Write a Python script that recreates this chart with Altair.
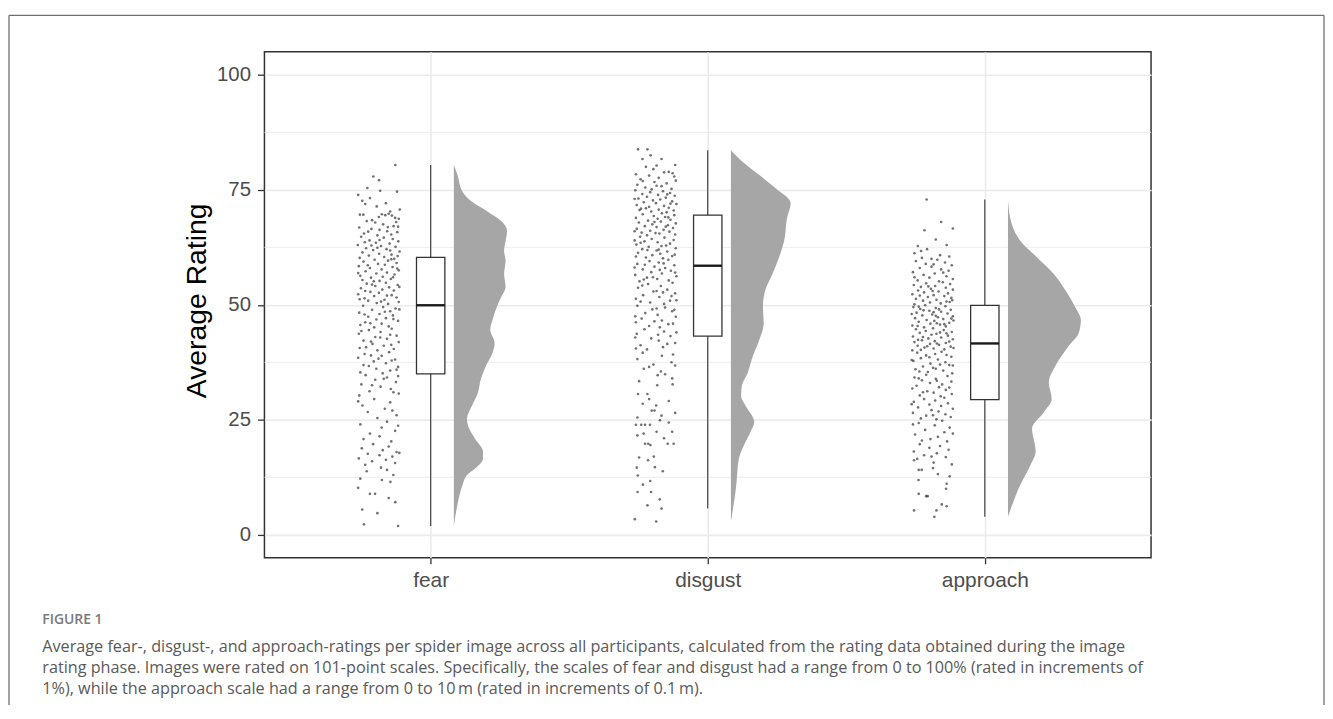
import altair as alt
import pandas as pd

categories = ["fear", "disgust", "approach"]

# (rating, jitter in -1..1) read from the jittered point clouds
fear_points = [
    (80.4, .79), (77.9, -.24), (77.1, .03), (75.4, -.52),
    (74.8, .08), (74.6, .87), (73.2, -.40), (72.6, -.76), (71.4, -.08), (70.7, 1.0), (72.1, .35), (73.9, -.95), (70.3, .55), (71.9, -.62),
    (69.6, -.87), (69.6, -.71), (69.7, .16), (69.5, .32), (69.8, .48), (69.4, .63), (68.9, .78), (68.7, .95), (68.2, -.55), (67.9, -.15),
    (67.5, .22), (67.1, .71), (66.8, -.90), (66.5, -.33), (66.3, .05), (66.0, .41), (65.8, .88), (65.5, -.68), (65.3, .60), (65.1, -.05),
    (67.0, .92), (68.4, -.30), (66.9, .44), (65.9, -.48), (68.0, .83), (69.1, .02),
    (64.8, -.81), (64.6, .25), (64.3, .67), (64.0, -.42), (63.8, .93), (63.5, -.12), (63.3, .52), (63.0, -.97), (62.8, .12), (62.6, .80),
    (62.3, -.58), (62.1, .38), (61.9, -.25), (61.6, .99), (61.4, -.75), (61.1, .03), (60.9, .61), (60.7, -.45), (60.4, .27), (60.2, -.88),
    (60.0, .74), (64.1, .05), (62.9, -.33), (61.8, .55), (63.6, -.64), (60.6, .90), (62.4, -.05),
    (59.8, -.18), (59.6, .45), (59.4, -.70), (59.1, .85), (58.9, -.02), (58.7, .30), (58.4, -.92), (58.2, .66), (58.0, -.40), (57.7, .15),
    (57.5, .95), (57.3, -.60), (57.0, .40), (56.8, -.10), (56.6, .75), (56.3, -.85), (56.1, .20), (55.9, -.35), (55.6, .58), (55.4, -.75),
    (55.2, .05), (59.9, .60), (58.6, -.50), (57.9, .88), (56.9, -.95), (56.0, .68), (55.1, -.22),
    (54.8, .35), (54.6, -.55), (54.3, .90), (54.1, -.15), (53.8, .50), (53.6, -.82), (53.3, .18), (53.1, .72), (52.8, -.38), (52.6, .02),
    (52.3, -.95), (52.1, .62), (51.9, -.20), (51.6, .85), (51.4, -.65), (51.1, .28), (50.9, -.48), (50.6, .95), (50.4, -.08), (50.2, .45),
    (54.4, -.30), (53.0, -.62), (52.0, .40), (51.2, -.88), (50.7, .12), (53.9, .98),
    (49.8, -.72), (49.5, .22), (49.2, .80), (48.9, -.30), (48.6, .55), (48.3, -.90), (48.0, .05), (47.7, .68), (47.4, -.48), (47.1, .35),
    (46.8, -.10), (46.5, .92), (46.2, -.62), (45.9, .15), (45.6, -.85), (45.3, .48), (45.1, -.20), (49.0, .98), (47.9, -.65), (46.9, .70),
    (46.0, -.38), (48.5, .30),
    (44.8, .62), (44.5, -.45), (44.1, .10), (43.7, -.92), (43.3, .85), (43.0, -.15), (42.6, .40), (42.2, -.70), (41.9, .95), (41.5, -.28),
    (41.1, .25), (40.8, -.58), (40.4, .72), (40.1, -.05), (44.3, -.80), (43.5, .55), (42.0, -.35), (41.3, .60), (40.6, -.88), (42.9, .08),
    (39.7, .50), (39.3, -.65), (38.9, .15), (38.5, -.95), (38.1, .78), (37.7, -.22), (37.3, .35), (36.9, -.70), (36.5, .92), (36.1, -.10),
    (35.7, .55), (35.3, -.85), (35.1, .20), (39.0, -.35), (37.9, .62), (36.7, -.45), (35.9, .85), (38.3, .00),
    (34.7, -.60), (34.2, .40), (33.7, -.15), (33.2, .82), (32.7, -.80), (32.2, .10), (31.7, .58), (31.2, -.42), (30.7, .95), (30.3, -.90),
    (33.9, .25), (32.5, -.30), (31.0, .70), (34.5, .92),
    (29.5, -.20), (28.8, .55), (28.1, -.75), (27.4, .30), (26.7, -.50), (26.0, .85), (25.4, -.05), (29.0, -.95), (27.0, .65),
    (24.6, .40), (24.0, -.85), (23.3, .15), (22.6, .78), (22.0, -.40), (21.4, .05), (20.8, -.70), (20.3, .60), (23.7, .92),
    (19.7, -.25), (19.2, .48), (18.8, -.78), (18.4, .20), (18.0, .85), (17.6, -.50), (17.3, .05), (17.0, .65), (16.6, -.92), (16.3, .35),
    (16.0, -.30), (15.6, .78), (15.2, -.62), (17.8, .98),
    (14.6, .12), (13.8, -.55), (13.0, .70), (12.2, -.85), (11.9, .16), (11.5, .56), (10.2, -.95), (14.1, .40),
    (8.9, -.40), (8.9, -.16), (8.0, .48), (7.1, .79), (5.5, -.76),
    (4.7, -.05), (2.3, -.68), (1.9, .92),
]

disgust_points = [
    (83.8, -.82), (83.8, -.38), (82.5, -.23), (81.7, -.61), (81.7, .28), (80.4, .92), (80.0, -.45), (80.3, .05),
    (78.9, .62), (78.6, .80), (78.4, -.92), (78.8, .40), (78.1, -.30), (77.6, .15), (77.3, -.70), (77.0, .95), (76.7, -.05), (76.4, .52),
    (76.1, -.85), (75.8, .28), (75.5, -.48), (75.2, .75), (75.1, -.18), (77.9, .88), (76.9, -.60), (75.9, .05), (79.5, -.10),
    (74.9, -.95), (74.7, .35), (74.5, -.25), (74.3, .68), (74.1, -.62), (73.9, .12), (73.7, .90), (73.5, -.40), (73.3, .48), (73.1, -.80),
    (72.9, .22), (72.7, -.12), (72.5, .78), (72.3, -.55), (72.1, .02), (71.9, .98), (71.7, -.88), (71.5, .40), (71.3, -.30), (71.1, .62),
    (70.9, -.68), (70.7, .15), (70.5, .85), (70.3, -.20), (70.1, .52), (73.0, -.98), (72.0, .70), (71.0, -.45), (74.0, .55), (70.6, -.75),
    (69.9, .30), (69.7, -.60), (69.5, .88), (69.3, -.08), (69.1, .45), (68.9, -.92), (68.7, .10), (68.5, .70), (68.3, -.35), (68.1, .25),
    (67.9, -.78), (67.7, .95), (67.5, -.15), (67.3, .58), (67.1, -.50), (66.9, .05), (66.7, .82), (66.5, -.88), (66.3, .38), (66.1, -.25),
    (65.9, .65), (65.7, -.65), (65.5, .18), (65.3, .92), (65.1, -.40), (68.0, -.05), (67.0, .48), (66.0, -.98), (69.0, .60), (65.6, .00),
    (64.8, -.72), (64.6, .42), (64.3, -.18), (64.1, .85), (63.8, -.52), (63.6, .10), (63.3, .68), (63.1, -.90), (62.8, .28), (62.6, -.32),
    (62.3, .95), (62.1, -.62), (61.8, .05), (61.6, .55), (61.3, -.82), (61.1, .22), (60.8, -.15), (60.6, .78), (60.3, -.45), (60.1, .35),
    (64.0, -.98), (62.9, .50), (61.9, -.38), (60.9, .90), (63.5, -.70), (62.0, .15), (60.5, -.92),
    (59.8, .60), (59.5, -.28), (59.2, .15), (58.9, -.85), (58.6, .88), (58.3, -.05), (58.0, .45), (57.7, -.60), (57.4, .72), (57.1, -.20),
    (56.8, .30), (56.5, -.95), (56.2, .98), (55.9, -.40), (55.6, .08), (55.3, .62), (55.1, -.75), (59.0, .38), (58.1, -.98), (57.0, .92),
    (56.0, -.12), (55.5, -.55), (58.7, -.50), (57.6, .20),
    (54.8, .80), (54.5, -.35), (54.1, .25), (53.7, -.82), (53.3, .55), (52.9, -.10), (52.5, .92), (52.1, -.58), (51.7, .18), (51.3, -.92),
    (50.9, .68), (50.5, -.25), (50.2, .40), (54.2, -.62), (53.0, .05), (51.9, .75), (50.7, -.70), (52.7, .35), (51.0, .98),
    (49.8, -.85), (49.4, .45), (49.0, -.15), (48.6, .78), (48.2, -.48), (47.8, .10), (47.4, .95), (47.0, -.65), (46.6, .30), (46.2, -.92),
    (45.8, .60), (45.4, -.30), (45.1, .20), (48.9, .88), (47.5, -.95), (46.4, -.05), (49.2, .05), (45.9, .82),
    (44.7, -.52), (44.2, .40), (43.7, -.88), (43.2, .70), (42.7, -.20), (42.2, .15), (41.7, .92), (41.2, -.70), (40.8, .35), (40.3, -.40),
    (44.0, .98), (42.9, -.95), (41.5, .55), (40.5, -.92), (43.5, .12),
    (39.6, -.60), (38.9, .30), (38.2, -.85), (37.5, .75), (36.8, .92), (36.5, -.30), (36.1, -.55), (35.5, .25), (39.2, .82), (37.0, -.10),
    (34.9, .45), (34.7, .10), (34.0, .78), (33.4, -.77), (32.7, .80), (32.5, .08), (30.6, -.82), (30.6, -.38),
    (29.1, .62), (28.1, .03), (27.0, -.05), (27.0, -.18), (25.9, .28), (26.5, .92), (28.5, -.60), (25.5, -.85), (29.5, -.30),
    (24.9, .21), (23.9, -.92), (23.9, -.67), (23.9, -.49), (23.9, -.26), (24.4, .62), (22.4, .05), (22.0, -.56), (21.6, -.85), (22.4, .78),
    (21.0, .40),
    (19.8, -.49), (19.8, -.34), (19.5, -.24), (19.8, .57), (19.8, .85), (17.0, -.08), (16.8, -.77), (16.2, -.35),
    (14.7, -.03), (14.6, -.88), (13.8, .34), (12.9, -.83), (11.7, -.25), (10.9, -.59),
    (9.3, -.84), (9.3, -.21), (7.7, .20), (6.4, -.38), (5.7, .28),
    (3.4, -.97), (2.9, .03),
]

approach_points = [
    (72.9, -.28),
    (66.2, -.38), (66.6, .95), (68.0, .40),
    (63.0, .66), (62.8, -.69), (62.1, -.26), (61.7, -.54), (61.2, -.85), (60.8, .35), (60.5, .78), (60.2, -.50), (60.0, -.05), (64.2, .15),
    (59.8, .22), (59.5, -.78), (59.2, .58), (58.9, -.32), (58.6, .90), (58.3, -.05), (58.0, -.60), (57.7, .40), (57.4, .75), (57.1, -.92),
    (56.8, .10), (56.5, -.42), (56.2, .65), (55.9, -.15), (55.6, .95), (55.3, -.70), (55.1, .30), (58.8, .05), (57.0, .50), (56.0, -.85),
    (54.9, .48), (54.7, -.30), (54.5, .82), (54.3, -.88), (54.1, .12), (53.9, -.55), (53.7, .62), (53.5, -.08), (53.3, .95), (53.1, -.68),
    (52.9, .28), (52.7, -.40), (52.5, .72), (52.3, -.95), (52.1, .05), (51.9, .55), (51.7, -.22), (51.5, .88), (51.3, -.78), (51.1, .18),
    (50.9, -.45), (50.7, .65), (50.5, -.12), (50.3, .38), (50.1, -.85), (53.0, .00), (52.0, -.60), (51.0, .92), (54.0, -.20), (50.6, .80),
    (49.9, -.35), (49.7, .60), (49.5, -.90), (49.3, .15), (49.1, -.58), (48.9, .85), (48.7, -.15), (48.5, .40), (48.3, -.75), (48.1, .70),
    (47.9, -.02), (47.7, -.48), (47.5, .95), (47.3, .25), (47.1, -.82), (46.9, .50), (46.7, -.28), (46.5, .08), (46.3, -.65), (46.1, .78),
    (45.9, -.10), (45.7, .35), (45.5, -.95), (45.3, .62), (45.1, -.40), (49.0, .30), (48.0, -.98), (47.0, .88), (46.0, .20), (45.4, -.70),
    (48.4, .05), (46.6, .98), (49.6, -.65), (47.6, .15), (45.8, .55), (48.8, -.42),
    (44.9, .02), (44.7, -.78), (44.5, .52), (44.3, -.32), (44.1, .90), (43.9, -.60), (43.7, .18), (43.5, -.05), (43.3, .72), (43.1, -.92),
    (42.9, .40), (42.7, -.20), (42.5, .95), (42.3, -.50), (42.1, .10), (41.9, -.85), (41.7, .62), (41.5, -.12), (41.3, .30), (41.1, -.70),
    (40.9, .85), (40.7, -.38), (40.5, .05), (40.3, .55), (40.1, -.95), (44.0, .35), (43.0, -.45), (42.0, .78), (41.0, -.25), (40.6, .98),
    (43.8, .65), (42.4, -.68), (41.6, .20), (40.2, -.55),
    (39.8, .42), (39.6, -.72), (39.3, .12), (39.0, -.30), (38.7, .88), (38.4, -.55), (38.1, .25), (37.8, -.90), (37.5, .60), (37.2, -.10),
    (36.9, .78), (36.6, -.45), (36.3, .02), (36.0, -.80), (35.7, .50), (35.4, -.22), (35.1, .92), (39.1, .65), (38.0, -.98), (37.0, .35),
    (36.1, .15), (35.5, -.62), (38.6, -.15), (36.8, .95),
    (34.8, -.30), (34.5, .70), (34.2, -.85), (33.9, .15), (33.6, -.50), (33.3, .88), (33.0, -.12), (32.7, .45), (32.4, -.75), (32.1, .30),
    (31.8, -.95), (31.5, .62), (31.2, -.25), (30.9, .05), (30.6, .90), (30.3, -.60), (30.1, .38), (33.5, .20), (32.0, .78), (31.0, -.45),
    (34.0, -.65),
    (29.8, .55), (29.5, -.40), (29.2, .12), (28.9, -.88), (28.6, .72), (28.3, -.15), (28.0, .40), (27.7, -.68), (27.4, .95), (27.1, -.05),
    (26.8, .28), (26.5, -.92), (26.2, .60), (25.9, -.30), (25.6, .85), (25.3, -.55), (25.1, .18), (28.4, -.98), (26.0, .02),
    (24.8, .45), (24.3, -.65), (23.8, .10), (23.3, .80), (22.8, -.35), (22.3, .55), (21.8, -.82), (21.3, .25), (20.8, -.10), (20.3, .68),
    (24.0, -.92), (22.0, .95), (20.5, -.50),
    (19.7, -.60), (19.3, .35), (18.9, -.15), (18.5, .75), (18.1, -.88), (17.7, .20), (17.3, -.40), (16.9, .62), (16.5, -.72), (16.2, -.87),
    (15.7, .05), (15.3, .90), (17.0, -.05),
    (14.5, .02), (14.1, -.65), (14.1, -.51), (12.7, .80), (11.9, -.66), (11.1, .66), (10.0, .63), (13.2, .25),
    (8.9, -.65), (8.4, -.30), (8.4, -.23), (6.6, .43), (6.2, .66), (5.3, -.87), (5.3, .18),
    (3.9, .08),
]

# box-plot statistics per category
whisker_low = [1.9, 5.7, 3.9]
box_q1 = [35.0, 43.2, 29.4]
box_median = [49.9, 58.5, 41.6]
box_q3 = [60.3, 69.5, 49.9]
whisker_high = [80.4, 83.6, 72.9]

# half-violin outlines: (rating, relative density)
fear_density = [
    (80.4, 0.0), (78.2, 0.05), (74.6, 0.12), (72.5, 0.24), (70.3, 0.46), (68.2, 0.65), (66.0, 0.73),
    (63.9, 0.71), (61.7, 0.69), (59.6, 0.71), (56.7, 0.69), (53.9, 0.71), (51.7, 0.65), (49.6, 0.59),
    (46.7, 0.53), (44.6, 0.50), (41.7, 0.56), (39.5, 0.53), (36.7, 0.44), (33.8, 0.37), (30.9, 0.33),
    (28.1, 0.25), (25.2, 0.18), (23.1, 0.21), (20.9, 0.29), (18.1, 0.40), (16.6, 0.40), (14.5, 0.30),
    (13.0, 0.18), (10.9, 0.12), (6.6, 0.05), (1.9, 0.0),
]
disgust_density = [
    (83.6, 0.0), (81.1, 0.16), (78.2, 0.39), (75.4, 0.61), (72.1, 0.82), (68.9, 0.77), (63.9, 0.73),
    (60.3, 0.66), (56.7, 0.57), (53.1, 0.47), (49.6, 0.44), (46.0, 0.45), (42.4, 0.39), (38.8, 0.30),
    (35.2, 0.23), (32.4, 0.15), (30.2, 0.14), (28.1, 0.20), (24.5, 0.32), (22.4, 0.27), (19.5, 0.18),
    (16.6, 0.11), (10.2, 0.07), (2.9, 0.0),
]
approach_density = [
    (72.9, 0.0), (71.0, 0.01), (68.9, 0.03), (63.9, 0.17), (60.3, 0.40), (56.7, 0.63), (53.1, 0.79),
    (49.6, 0.92), (46.7, 1.0), (43.8, 0.97), (41.0, 0.83), (36.7, 0.65), (33.1, 0.56), (29.5, 0.60),
    (26.6, 0.49), (23.1, 0.33), (18.1, 0.38), (15.2, 0.31), (10.2, 0.15), (6.6, 0.06), (3.9, 0.0),
]

major_ticks = [0, 25, 50, 75, 100]
minor_ticks = [12.5, 37.5, 62.5, 87.5]
y_title = "Average Rating"

caption_title = "FIGURE 1"
caption_lines = [
    "Average fear-, disgust-, and approach-ratings per spider image across all participants, calculated from the rating data obtained during the image",
    "rating phase. Images were rated on 101-point scales. Specifically, the scales of fear and disgust had a range from 0 to 100% (rated in increments of",
    "1%), while the approach scale had a range from 0 to 10\u2009m (rated in increments of 0.1\u2009m).",
]

# ---------------- tables ----------------
pt_rows, vio_rows = [], []
for i, (pts, dens) in enumerate(zip([fear_points, disgust_points, approach_points],
                                     [fear_density, disgust_density, approach_density]), start=1):
    for r, u in pts:
        pt_rows.append({"cat": i, "rating": r, "jitter": u})
    for r, d in sorted(dens):
        vio_rows.append({"cat": i, "rating": r, "dens": d})
points_df = pd.DataFrame(pt_rows)
violin_df = pd.DataFrame(vio_rows)
box_df = pd.DataFrame({"cat": [1, 2, 3], "lo": whisker_low, "q1": box_q1, "med": box_median,
                       "q3": box_q3, "hi": whisker_high})
minor_df = pd.DataFrame({"rating": minor_ticks})

# ---------------- scales / axes ----------------
xs = alt.Scale(domain=[0.4, 3.6], nice=False, zero=False)
ys = alt.Scale(domain=[-5, 105], nice=False, zero=False)
label_expr = "[" + ",".join("'%s'" % c for c in categories) + "][datum.value - 1]"

x_axis = alt.Axis(values=[1, 2, 3], labelExpr=label_expr, grid=True, gridColor="#EBEBEB", gridWidth=1.6,
                  domain=False, tickColor="#333333", tickWidth=1.3, tickSize=6,
                  labelFont="Liberation Sans", labelFontSize=21, labelColor="#4D4D4D", labelPadding=5.7)
y_axis = alt.Axis(values=major_ticks, grid=True, gridColor="#EBEBEB", gridWidth=1.6, domain=False,
                  tickColor="#333333", tickWidth=1.3, tickSize=7,
                  labelFont="Liberation Sans", labelFontSize=20.5, labelColor="#4D4D4D", labelPadding=7,
                  title=y_title, titleFont="Liberation Sans", titleFontSize=28.5, titleFontWeight="normal",
                  titleColor="#000000", titleAngle=270, titleAlign="center", titleBaseline="alphabetic",
                  titleX=-59.3, titleY=250)


def X(field):
    return alt.X(field, type="quantitative", scale=xs, axis=x_axis, title=None, stack=None)


def Y(field):
    return alt.Y(field, type="quantitative", scale=ys, axis=y_axis, title=y_title)


minor_grid = alt.Chart(minor_df).mark_rule(color="#EBEBEB", strokeWidth=0.9).encode(y=Y("rating"))

violin = alt.Chart(violin_df).transform_calculate(
    x0="datum.cat + 0.0836", x1="datum.cat + 0.0836 + datum.dens * 0.263"
).mark_area(orient="horizontal", interpolate="monotone", color="#A6A6A6").encode(
    y=Y("rating"), x=X("x0"), x2="x1:Q", detail="cat:N"
)

whisker = alt.Chart(box_df).mark_rule(color="#333333", strokeWidth=1.1).encode(
    x=X("cat"), y=Y("lo"), y2="hi:Q"
)
box = alt.Chart(box_df).transform_calculate(
    bx0="datum.cat - 0.0512", bx1="datum.cat + 0.0512"
).mark_rect(fill="white", stroke="#333333", strokeWidth=1.3).encode(
    x=X("bx0"), x2="bx1:Q", y=Y("q1"), y2="q3:Q"
)
median = alt.Chart(box_df).transform_calculate(
    bx0="datum.cat - 0.0512", bx1="datum.cat + 0.0512"
).mark_rule(color="#1A1A1A", strokeWidth=2.4).encode(x=X("bx0"), x2="bx1:Q", y=Y("med"))

points = alt.Chart(points_df).transform_calculate(
    px="datum.cat - 0.1885 + datum.jitter * 0.077"
).mark_circle(size=7, color="#1A1A1A", opacity=0.62).encode(x=X("px"), y=Y("rating"))

# ---------------- figure frame and caption ----------------
one = alt.Data(values=[{"k": 1}])
frame_color = "#707070"
frame_left = alt.Chart(one).mark_rule(color=frame_color, strokeWidth=1.3).encode(
    x=alt.value(-257), y=alt.value(-36.7), y2=alt.value(700))
frame_top = alt.Chart(one).mark_rule(color=frame_color, strokeWidth=1.3).encode(
    x=alt.value(-257), x2=alt.value(1066), y=alt.value(-36.7))
frame_right = alt.Chart(one).mark_rule(color=frame_color, strokeWidth=1.3).encode(
    x=alt.value(1066), y=alt.value(-36.7), y2=alt.value(700))

fig_label = alt.Chart(one).mark_text(align="left", baseline="alphabetic", font="Open Sans", fontSize=14,
                                     fontWeight=600, color="#7A7A7A").encode(
    x=alt.value(-223.5), y=alt.value(576), text=alt.value(caption_title))
caption = alt.Chart(one).mark_text(align="left", baseline="alphabetic", font="Open Sans", fontSize=16.3,
                                   color="#595959", lineHeight=21.5).encode(
    x=alt.value(-223.5), y=alt.value(603.5), text=alt.value(caption_lines))

chart = alt.layer(
    minor_grid, violin, whisker, box, median, points,
    frame_left, frame_top, frame_right, fig_label, caption
).properties(
    width=892, height=509,
    autosize=alt.AutoSizeParams(type="none"),
    padding={"left": 258, "top": 42, "right": 175, "bottom": 146},
).configure_view(stroke="#333333", strokeWidth=1.5)

chart.save("out.html", embed_options={"renderer": "svg", "actions": False})
